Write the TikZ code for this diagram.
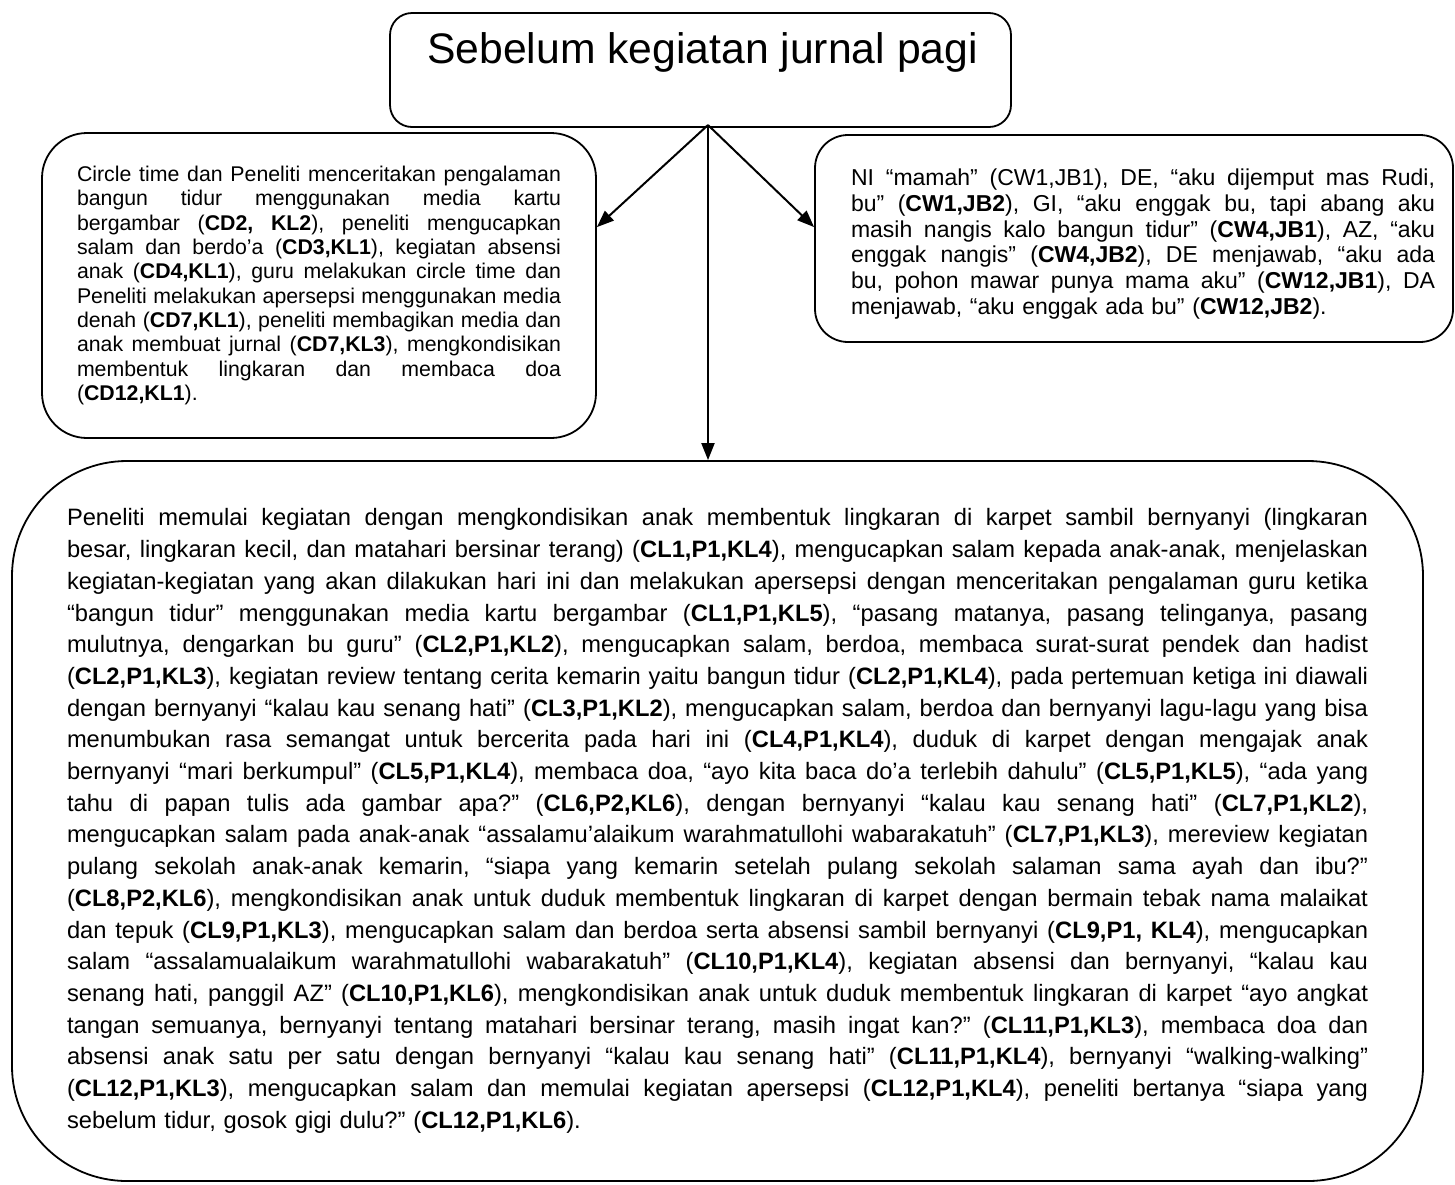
\documentclass[tikz,border=0pt]{standalone}
\usepackage{fontspec}
\setmainfont{Liberation Sans}
\usetikzlibrary{arrows.meta,calc}
\frenchspacing
% one justified line of a box text (even stretch of its spaces), and a closing line at natural width
\newcommand{\jrow}[1]{\hbox to\hsize{\spaceskip=\fontdimen2\font plus 1fil minus .3\fontdimen2\font\relax #1}}
\newcommand{\frow}[1]{\hbox{#1}}

\begin{document}
\begin{tikzpicture}[x=1pt,y=-1pt,
  panel/.style={draw=black, line width=1.8pt, rectangle, inner sep=0pt},
  flow/.style={line width=2pt, -{Triangle[length=17pt,width=13pt]}},
]
\useasboundingbox (0,0) rectangle (1455,1184);

% heading box
\node[panel, rounded corners=22pt, minimum width=621pt, minimum height=114pt] (top) at (700.5,70) {};
\node[font=\fontsize{42.7}{50}\selectfont, inner sep=0pt, anchor=base] (title) at (702.5,63) {Sebelum kegiatan jurnal pagi};

% left box
\node[panel, rounded corners=45pt, minimum width=554pt, minimum height=305pt,
      text width=484pt, font=\fontsize{21.3}{24.3}\selectfont] (left) at (319,285.5) {%
\jrow{Circle time dan Peneliti menceritakan pengalaman}
\jrow{bangun tidur menggunakan media kartu}
\jrow{bergambar (\textbf{CD2, KL2}), peneliti mengucapkan}
\jrow{salam dan berdo’a (\textbf{CD3,KL1}), kegiatan absensi}
\jrow{anak (\textbf{CD4,KL1}), guru melakukan circle time dan}
\jrow{Peneliti melakukan apersepsi menggunakan media}
\jrow{denah (\textbf{CD7,KL1}), peneliti membagikan media dan}
\jrow{anak membuat jurnal (\textbf{CD7,KL3}), mengkondisikan}
\jrow{membentuk lingkaran dan membaca doa}
\frow{(\textbf{CD12,KL1}).}};

% right box and its text
\node[panel, rounded corners=33pt, minimum width=638pt, minimum height=207pt] (right) at (1134,238.5) {};
\node[inner sep=0pt, text width=584pt, font=\fontsize{23}{25.7}\selectfont] (righttext) at (1143,244) {%
\jrow{NI “mamah” (CW1,JB1), DE, “aku dijemput mas Rudi,}
\jrow{bu” (\textbf{CW1,JB2}), GI, “aku enggak bu, tapi abang aku}
\jrow{masih nangis kalo bangun tidur” (\textbf{CW4,JB1}), AZ, “aku}
\jrow{enggak nangis” (\textbf{CW4,JB2}), DE menjawab, “aku ada}
\jrow{bu, pohon mawar punya mama aku” (\textbf{CW12,JB1}), DA}
\frow{menjawab, “aku enggak ada bu” (\textbf{CW12,JB2}).}};

% bottom box
\node[panel, rounded corners=115pt, minimum width=1411pt, minimum height=720pt,
      text width=1301pt, font=\fontsize{23.7}{31.7}\selectfont] (bottom) at (717.5,821) {%
\jrow{Peneliti memulai kegiatan dengan mengkondisikan anak membentuk lingkaran di karpet sambil bernyanyi (lingkaran}
\jrow{besar, lingkaran kecil, dan matahari bersinar terang) (\textbf{CL1,P1,KL4}), mengucapkan salam kepada anak-anak, menjelaskan}
\jrow{kegiatan-kegiatan yang akan dilakukan hari ini dan melakukan apersepsi dengan menceritakan pengalaman guru ketika}
\jrow{“bangun tidur” menggunakan media kartu bergambar (\textbf{CL1,P1,KL5}), “pasang matanya, pasang telinganya, pasang}
\jrow{mulutnya, dengarkan bu guru” (\textbf{CL2,P1,KL2}), mengucapkan salam, berdoa, membaca surat-surat pendek dan hadist}
\jrow{(\textbf{CL2,P1,KL3}), kegiatan review tentang cerita kemarin yaitu bangun tidur (\textbf{CL2,P1,KL4}), pada pertemuan ketiga ini diawali}
\jrow{dengan bernyanyi “kalau kau senang hati” (\textbf{CL3,P1,KL2}), mengucapkan salam, berdoa dan bernyanyi lagu-lagu yang bisa}
\jrow{menumbukan rasa semangat untuk bercerita pada hari ini (\textbf{CL4,P1,KL4}), duduk di karpet dengan mengajak anak}
\jrow{bernyanyi “mari berkumpul” (\textbf{CL5,P1,KL4}), membaca doa, “ayo kita baca do’a terlebih dahulu” (\textbf{CL5,P1,KL5}), “ada yang}
\jrow{tahu di papan tulis ada gambar apa?” (\textbf{CL6,P2,KL6}), dengan bernyanyi “kalau kau senang hati” (\textbf{CL7,P1,KL2}),}
\jrow{mengucapkan salam pada anak-anak “assalamu’alaikum warahmatullohi wabarakatuh” (\textbf{CL7,P1,KL3}), mereview kegiatan}
\jrow{pulang sekolah anak-anak kemarin, “siapa yang kemarin setelah pulang sekolah salaman sama ayah dan ibu?”}
\jrow{(\textbf{CL8,P2,KL6}), mengkondisikan anak untuk duduk membentuk lingkaran di karpet dengan bermain tebak nama malaikat}
\jrow{dan tepuk (\textbf{CL9,P1,KL3}), mengucapkan salam dan berdoa serta absensi sambil bernyanyi (\textbf{CL9,P1, KL4}), mengucapkan}
\jrow{salam “assalamualaikum warahmatullohi wabarakatuh” (\textbf{CL10,P1,KL4}), kegiatan absensi dan bernyanyi, “kalau kau}
\jrow{senang hati, panggil AZ” (\textbf{CL10,P1,KL6}), mengkondisikan anak untuk duduk membentuk lingkaran di karpet “ayo angkat}
\jrow{tangan semuanya, bernyanyi tentang matahari bersinar terang, masih ingat kan?” (\textbf{CL11,P1,KL3}), membaca doa dan}
\jrow{absensi anak satu per satu dengan bernyanyi “kalau kau senang hati” (\textbf{CL11,P1,KL4}), bernyanyi “walking-walking”}
\jrow{(\textbf{CL12,P1,KL3}), mengucapkan salam dan memulai kegiatan apersepsi (\textbf{CL12,P1,KL4}), peneliti bertanya “siapa yang}
\frow{sebelum tidur, gosok gigi dulu?” (\textbf{CL12,P1,KL6}).}};

% connectors fanning out from under the heading
\coordinate (hub) at (708,125);
\draw[flow] (hub) -- ([yshift=-95pt]left.north east);
\draw[flow] (hub) -- ([yshift=-93pt]right.north west);
\draw[flow] (hub) -- (hub |- bottom.north);
\end{tikzpicture}
\end{document}
